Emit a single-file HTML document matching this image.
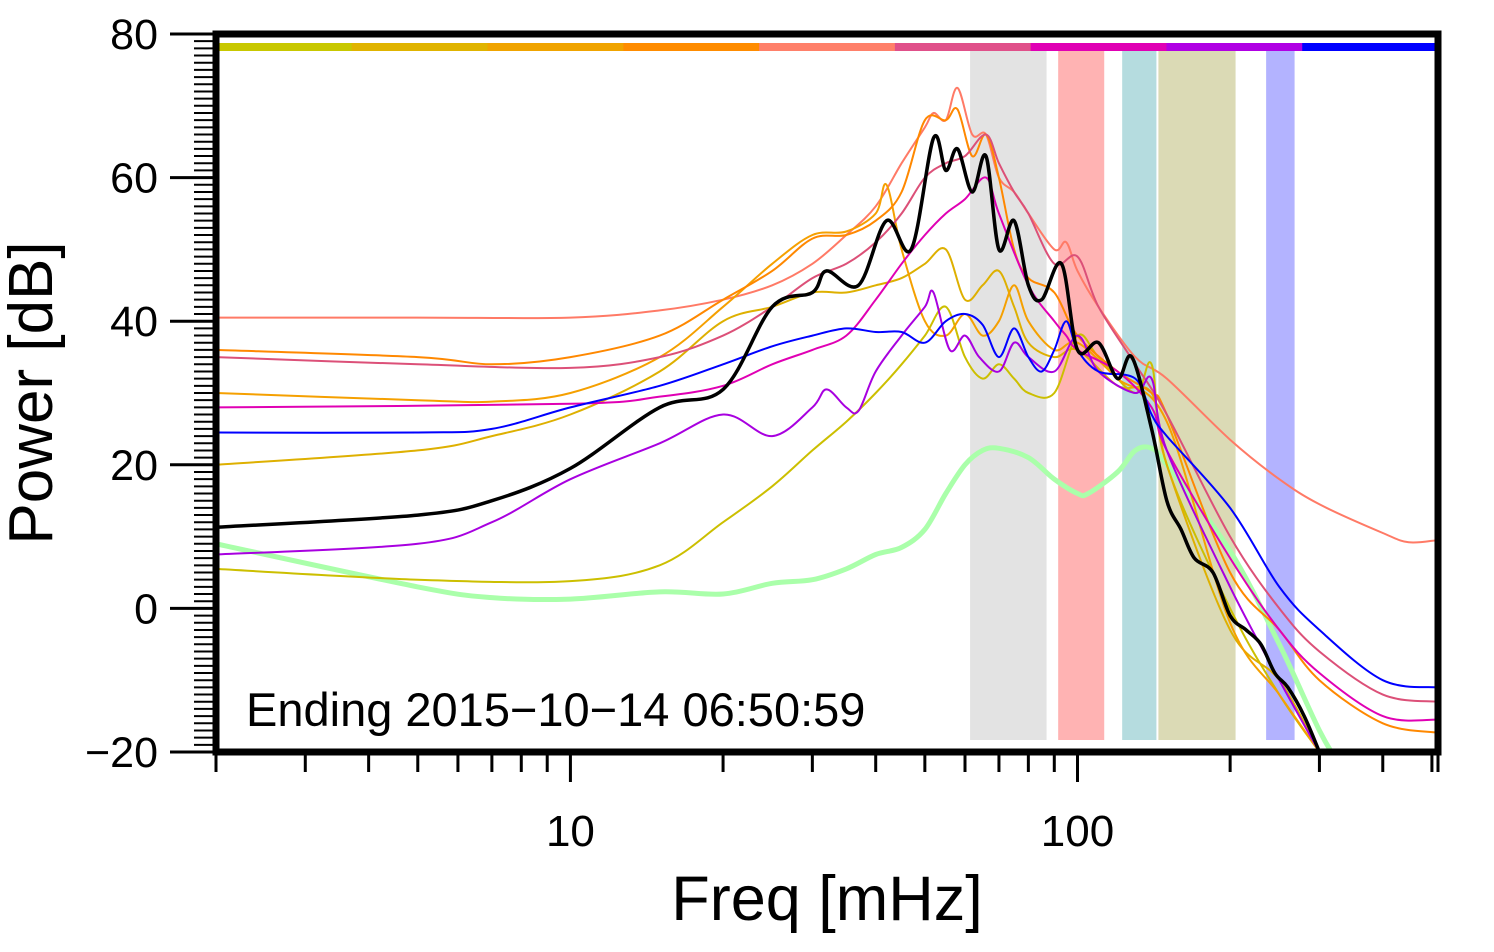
<!DOCTYPE html>
<html><head><meta charset="utf-8"><style>
html,body{margin:0;padding:0;background:#fff;}
svg{display:block;font-family:"Liberation Sans",sans-serif;}
</style></head><body>
<svg id="chart" width="1494" height="952">
<defs><clipPath id="plotclip"><rect x="216" y="34" width="1222" height="718"/></clipPath></defs>
<g id="bands"></g>
<g id="colorbar"></g>
<g id="series" clip-path="url(#plotclip)"></g>
<g id="axes"></g>
<text x="246" y="726" font-size="47" fill="#000">Ending 2015−10−14 06:50:59</text>
<text x="827" y="920" font-size="63" text-anchor="middle">Freq [mHz]</text>
<text transform="translate(52,393) rotate(-90)" font-size="62" text-anchor="middle">Power [dB]</text>
</svg>
<script>
const NS="http://www.w3.org/2000/svg";
const yTicks=[80,60,40,20,0,-20];
const xTickLabels=[10,100];
const bandRanges=[[61.4,86.9],[91.6,112.9],[122.5,143.1],[144.4,205],[235.5,268]];
const bandColors=["#e3e3e3","#ffb3b3","#b5dcdf","#dbdab5","#b3b3ff"];
const barColors=["#c8c800","#e0b400","#f0a400","#ff8c00","#ff806a","#e0508a","#e000b4","#b000e4","#0000ff"];
const fBlack=[2,5,7,10,15,20,25,30,32,37,42,47,52,55,58,62,66,70,75,80,85,93,100,110,120,128,140,150,160,170,185,200,215,230,245,260,280,300];
const vBlack=[11.3,13,15,19.5,28,30.5,42,44,47,45,54,50,65.5,61,64,58,63,50,54,45,43,48,36,37,32,35,25,15,11,7,5,-1,-3,-5,-9,-11,-15,-20];
const fSalmon=[2,5,10,15,20,25,30,35,40,45,50,52,55,58,62,66,70,75,80,90,95,100,110,130,150,200,250,300,400,450,512];
const vSalmon=[40.5,40.5,40.5,41.5,43,45,48,52,56,62,67,69,68,72.5,66,66,60,58,55,50,51,47,42,35,32,23.5,18,14.5,10.5,9.2,9.5];
const fOrange=[2,5,7,10,15,20,25,30,35,40,45,50,55,58,62,66,70,75,80,90,100,120,140,150,200,250,300,400,512];
const vOrange=[36,35,34,35,38,43,47,51.5,52,54,58,68,68,69.5,63,66,60,50,46,44,38,33,30,27,5,-3,-10,-16,-17.3];
const fGold=[2,5,7,10,15,20,25,30,35,40,42,45,50,55,60,65,70,75,80,90,100,120,150,200,250,300];
const vGold=[30,29,28.8,30,35,42,48,52,52.5,55,59,50,40,38,41,38,40,45,40,36,37,32,26,-2,-12,-20];
const fAmber=[2,5,7,10,15,20,25,30,35,40,45,50,55,60,65,70,75,80,90,100,120,140,150,200,250,300];
const vAmber=[20,22,24,27,33,40,42,44,44,45,46,48,50,43,45,47,42,37,35,36,31,30,20,-3,-10,-20];
const fYellow=[2,5,10,15,20,25,30,35,40,45,50,55,60,65,70,75,80,90,100,110,130,140,150,200,250,300];
const vYellow=[5.5,4,3.8,6,12,17,22,26,30,34,38,42,35,32,34,32,30,30,38,35,30,34,20,0,-12,-20];
const fMagenta=[2,10,15,20,25,30,35,40,45,50,55,60,66,70,80,90,95,100,120,140,150,200,250,300,400,512];
const vMagenta=[28,28.5,29.5,31,34,36,38,43,48,52,55,57,60,55,45,40,38,36,33,28,22,7,-3,-9,-15,-15.5];
const fPink=[2,5,10,15,20,25,30,35,40,45,50,55,60,66,70,75,80,90,100,110,130,150,200,250,300,400,512];
const vPink=[35,34,33.5,35,38,42,46,48,51,55,60,62,63,66,62,58,55,48,49,42,34,27,10,0,-6,-12,-13];
const fPurple=[2,5,7,10,15,20,25,30,32,35,37,40,45,50,52,56,60,64,70,75,80,90,100,110,130,140,150,200,250,300];
const vPurple=[7.5,9,12,18,23,27,24,28,30.5,28,27.5,33,38,42,44,36,38,35,33,37,35,33,38,33,30,32,22,3,-10,-20];
const fBlue=[2,5,7,10,15,20,25,30,35,40,45,50,55,60,65,70,75,80,85,90,95,100,110,130,140,150,200,250,300,400,512];
const vBlue=[24.5,24.5,25,28,31,34,36.5,38,39,38.5,38.5,37,40,41,39.5,35,39,35,33,36,40,36,33,32,27,24,14,3,-3,-10,-11];
const fGreen=[2,5,7,10,15,20,25,30,35,40,45,50,55,60,65,70,80,90,100,105,120,130,140,150,200,250,300,330];
const vGreen=[9,3,1.5,1.3,2.3,2,3.5,4,5.5,7.5,8.5,11,16,20,22,22.3,21,18,16,16,19,22,22.3,20,8,-5,-17,-22];
const seriesList=[
 {name:"series-green",f:fGreen,v:vGreen,c:"#aaffaa",w:5},
 {name:"series-salmon",f:fSalmon,v:vSalmon,c:"#ff7a66",w:2},
 {name:"series-yellow",f:fYellow,v:vYellow,c:"#ccbf00",w:2},
 {name:"series-amber",f:fAmber,v:vAmber,c:"#deb000",w:2},
 {name:"series-gold",f:fGold,v:vGold,c:"#f5a000",w:2},
 {name:"series-orange",f:fOrange,v:vOrange,c:"#ff8800",w:2},
 {name:"series-pink",f:fPink,v:vPink,c:"#dc5078",w:2},
 {name:"series-magenta",f:fMagenta,v:vMagenta,c:"#e000b4",w:2},
 {name:"series-purple",f:fPurple,v:vPurple,c:"#a800e0",w:2},
 {name:"series-blue",f:fBlue,v:vBlue,c:"#0000ff",w:2},
 {name:"series-black",f:fBlack,v:vBlack,c:"#000000",w:3.5}
];
const X0=216,X1=1438,Y0=34,Y1=752,FMIN=2,FMAX=514,VMIN=-20,VMAX=80;
function xs(f){return X0+(Math.log10(f)-Math.log10(FMIN))/(Math.log10(FMAX)-Math.log10(FMIN))*(X1-X0);}
function ys(v){return Y1-(v-VMIN)/(VMAX-VMIN)*(Y1-Y0);}
function mk(tag,attrs,parent){const e=document.createElementNS(NS,tag);for(const k in attrs)e.setAttribute(k,attrs[k]);parent.appendChild(e);return e;}
function smooth(pts){let d="M"+pts[0][0].toFixed(1)+","+pts[0][1].toFixed(1);
 for(let i=0;i<pts.length-1;i++){const p0=pts[i-1]||pts[i],p1=pts[i],p2=pts[i+1],p3=pts[i+2]||p2;
  const c1=[p1[0]+(p2[0]-p0[0])/6,p1[1]+(p2[1]-p0[1])/6],c2=[p2[0]-(p3[0]-p1[0])/6,p2[1]-(p3[1]-p1[1])/6];
  d+="C"+c1.map(n=>n.toFixed(1)).join(",")+" "+c2.map(n=>n.toFixed(1)).join(",")+" "+p2[0].toFixed(1)+","+p2[1].toFixed(1);}
 return d;}
const bands=document.getElementById('bands');
bandRanges.forEach((r,i)=>{const e=mk('rect',{x:xs(r[0]),y:50,width:xs(r[1])-xs(r[0]),height:690,fill:bandColors[i]},bands);
 
 });
const cb=document.getElementById('colorbar');
const segW=(X1-X0)/barColors.length;
barColors.forEach((c,i)=>{const e=mk('rect',{x:X0+i*segW,y:43,width:segW+0.5,height:8,fill:c},cb);
 
 });
const sg=document.getElementById('series');
seriesList.forEach(s=>{const pts=s.f.map((f,i)=>[xs(f),ys(s.v[i])]);
 const e=mk('path',{d:smooth(pts),fill:'none',stroke:s.c,'stroke-width':s.w,'stroke-linejoin':'round'},sg);
 
 });
const ax=document.getElementById('axes');
for(let v=VMIN;v<=VMAX;v++){const y=ys(v);const major=v%20===0;
 const t=mk('line',{x1:major?170:194,x2:216,y1:y,y2:y,stroke:'#000','stroke-width':major?3:2},ax);
 
 }
yTicks.forEach(v=>{const t=mk('text',{x:158,y:ys(v)+15,'font-size':43,'text-anchor':'end'},ax);t.textContent=(v<0?'−'+(-v):String(v));
 
 });
for(const dec of [1,10,100]){for(let m=1;m<10;m++){const f=m*dec;if(f<FMIN||f>FMAX)continue;const x=xs(f);const major=(m===1);
 const t=mk('line',{x1:x,x2:x,y1:752,y2:major?782:772,stroke:'#000','stroke-width':3},ax);
 
 }}
{const t=mk('line',{x1:X1,x2:X1,y1:752,y2:772,stroke:'#000','stroke-width':3},ax);}
xTickLabels.forEach(f=>{const t=mk('text',{x:xs(f),y:846,'font-size':44,'text-anchor':'middle'},ax);t.textContent=String(f);
 
 });
const fr=mk('rect',{x:X0,y:Y0,width:X1-X0,height:Y1-Y0,fill:'none',stroke:'#000','stroke-width':7},ax);


</script>
</body></html>
